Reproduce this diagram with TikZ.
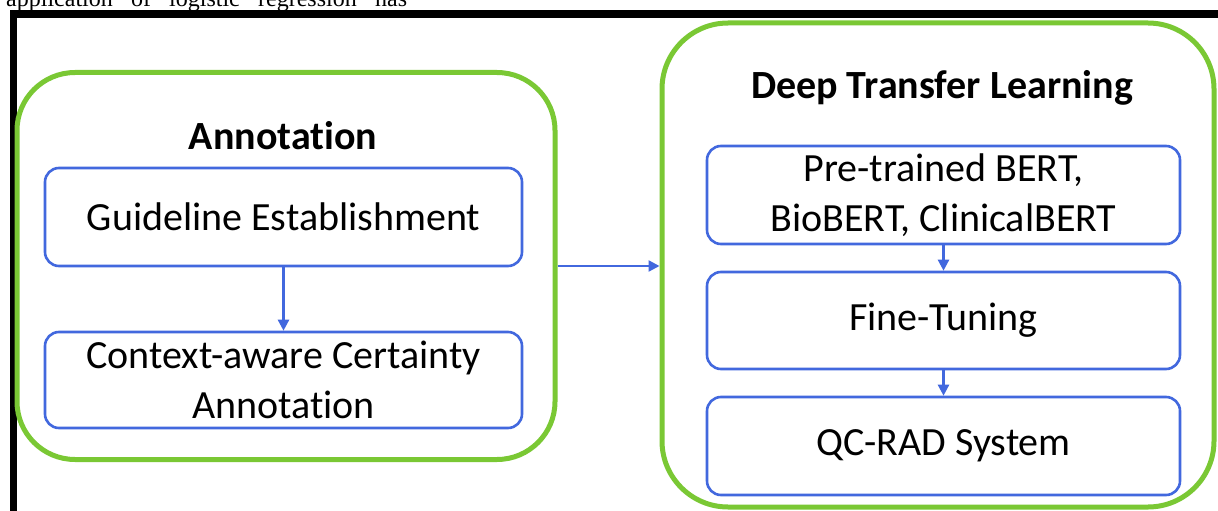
\documentclass[tikz,border=0pt]{standalone}
\usepackage{fontspec}
\setmainfont{Carlito}[Ligatures=NoCommon]
\newfontfamily\topserif{Liberation Serif}
\usetikzlibrary{arrows.meta}
\definecolor{boxblue}{RGB}{66,104,222}
\definecolor{grpgreen}{RGB}{122,200,52}
\tikzset{
  grp/.style={draw=grpgreen, line width=5pt, rounded corners=58pt, inner sep=0pt},
  stepbox/.style={draw=boxblue, line width=2.6pt, rounded corners=14pt, inner sep=0pt,
    align=center, font=\fontsize{40}{50}\selectfont},
  grptitle/.style={font=\fontsize{40}{48}\selectfont\bfseries, inner sep=0pt},
  conn/.style={draw=boxblue, line width=2.4pt, -{Triangle[length=11pt,width=11pt]}},
  topword/.style={anchor=base west, inner sep=0pt, font=\topserif\fontsize{24}{26}\selectfont}
}
\begin{document}
\begin{tikzpicture}[x=1pt,y=-1pt]
\useasboundingbox (0,0) rectangle (1218,511);
\clip (0,0) rectangle (1218,511);
\fill[white] (0,0) rectangle (1218,511);
% cropped text line at the top
\node[topword] (w1) at (6,7) {application};
\node[topword] (w2) at (131,7) {of};
\node[topword] (w3) at (169,7) {logistic};
\node[topword] (w4) at (258,7) {regression};
\node[topword] (w5) at (375,7) {has};
% black frame (cropped)
\draw[line width=7.5pt] (13.5,530) -- (13.5,14) -- (1240,14);
% groups
\node[grp, minimum width=538pt, minimum height=387pt] (gl) at (286,266) {};
\node[grp, minimum width=552pt, minimum height=484pt, rounded corners=66pt] (gr) at (938,265) {};
\node[grptitle] (tl) at (283,136) {Annotation};
\node[grptitle] (tr) at (942,88) {Deep Transfer Learning};
% left steps
\node[stepbox, minimum width=477pt, minimum height=98pt] (g1) at (283.5,217) {Guideline Establishment};
\node[stepbox, minimum width=477pt, minimum height=96pt] (g2) at (283.5,380) {Context-aware Certainty\\Annotation};
% right steps
\node[stepbox, minimum width=473pt, minimum height=98pt] (p1) at (943.5,195) {Pre-trained BERT,\\BioBERT, ClinicalBERT};
\node[stepbox, minimum width=473pt, minimum height=97pt] (p2) at (943.5,320.5) {Fine-Tuning};
\node[stepbox, minimum width=473pt, minimum height=98pt] (p3) at (943.5,446) {QC-RAD System};
% connectors
\draw[conn] (g1) -- (g2);
\draw[conn] (p1) -- (p2);
\draw[conn] (p2) -- (p3);
\draw[conn] (gl.east) -- (gl.east -| gr.west);
\end{tikzpicture}
\end{document}
